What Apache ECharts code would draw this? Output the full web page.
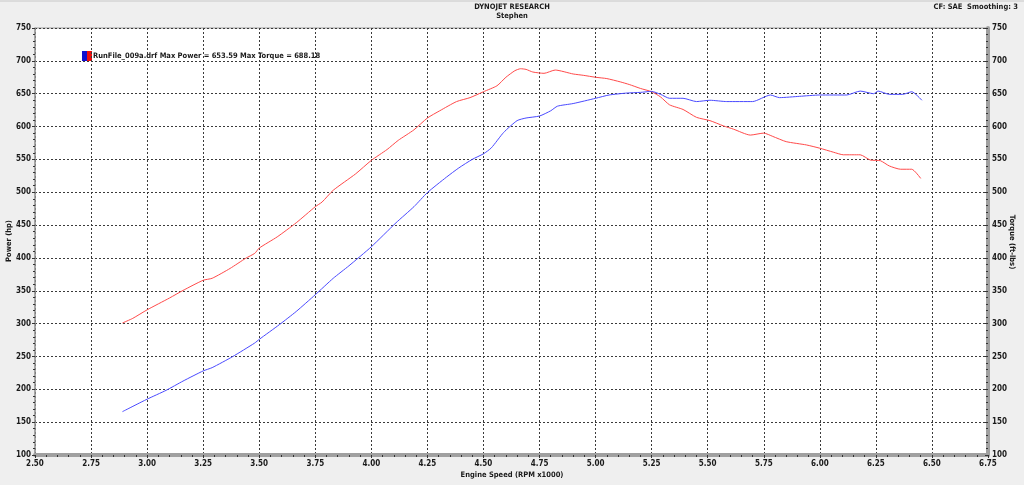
<!DOCTYPE html>
<html>
<head>
<meta charset="utf-8">
<script src="https://cdn.jsdelivr.net/npm/echarts@6/dist/echarts.min.js"></script>
<style>
html,body{margin:0;padding:0;background:#efefef;}
#c{width:1024px;height:485px;}
</style>
</head>
<body>
<div id="c"></div>
<script>
// ---- data ----
var torqueRpm = [2.89,2.936,3.00,3.10,3.16,3.25,3.29,3.37,3.44,3.48,3.50,3.58,3.665,3.75,3.78,3.83,3.93,4.00,4.07,4.12,4.19,4.25,4.305,4.38,4.44,4.50,4.56,4.60,4.64,4.665,4.69,4.72,4.77,4.82,4.90,4.945,5.00,5.05,5.11,5.15,5.20,5.25,5.29,5.33,5.39,5.45,5.51,5.57,5.615,5.69,5.75,5.79,5.85,5.94,6.00,6.06,6.105,6.18,6.225,6.27,6.31,6.36,6.41,6.45];
var torqueVal = [301,308,321,339,350.5,366,369,384,399.5,407,415,432,453.5,478,485,503,528,548.5,565,579,595,613,624,638,644,653,662,675,685,688,687,683,681,686,680,678,675,673,668,664,658,653,645,633,626,614,609,601,596,587,590,585,577,572,567,561,557,557,549,548,540,535,535,521];
var powerRpm = [2.89,3.00,3.085,3.16,3.25,3.29,3.38,3.48,3.50,3.59,3.665,3.75,3.83,3.90,4.00,4.11,4.19,4.25,4.335,4.39,4.45,4.50,4.535,4.59,4.65,4.69,4.75,4.80,4.83,4.90,5.00,5.06,5.14,5.20,5.25,5.29,5.33,5.39,5.45,5.51,5.585,5.70,5.78,5.82,5.91,6.00,6.12,6.18,6.24,6.26,6.31,6.37,6.41,6.455];
var powerVal = [166,185,198.5,212.5,228,233,249.5,270.5,276,298.5,318.5,344,369,388,417,453.5,478,499.5,523,537,550,558.5,567.5,591,609,613,616,624,631,635,643,648,651,652,653.5,649,643,643,638,640,638,638,648,644,646,648,648,654,650,654,649,649,653,640];
var titleLines = ['DYNOJET RESEARCH','Stephen'];
var infoText = 'CF: SAE  Smoothing: 3';
var legendText = 'RunFile_009a.drf Max Power = 653.59 Max Torque = 688.18';
var xTitle = 'Engine Speed (RPM x1000)';
var yLeftTitle = 'Power (hp)';
var yRightTitle = 'Torque (ft-lbs)';

function pairs(xs, ys){ return xs.map(function(x,i){ return [x, ys[i]]; }); }

var FONT = "'DejaVu Sans Condensed','Liberation Sans',sans-serif";
var chart = echarts.init(document.getElementById('c'));
var lbl = {fontSize:8, fontWeight:'bold', color:'#1a1a1a', fontFamily:FONT};
var split = {show:true, lineStyle:{color:'#3a3a3a', type:[2,2], width:1}};
var TF = 'bold 7.5px ' + FONT;

chart.setOption({
  backgroundColor:'#efefef',
  animation:false,
  grid:{left:35,right:36,top:28,bottom:30,show:true,backgroundColor:'#ffffff',borderColor:'#9a9a9a',borderWidth:1},
  xAxis:{type:'value',min:2.5,max:6.75,interval:0.25,
    axisLine:{show:true,onZero:false,lineStyle:{color:'#a0a0a0',width:4}},
    axisTick:{show:true,length:3,lineStyle:{color:'#333'}},
    minorTick:{show:true,splitNumber:5,length:2,lineStyle:{color:'#333'}},
    axisLabel:Object.assign({margin:5,formatter:function(v){return v.toFixed(2);}},lbl),
    splitLine:split},
  yAxis:[
    {type:'value',min:100,max:750,interval:50,position:'left',
      axisLine:{show:true,lineStyle:{color:'#9a9a9a',width:1.5}},
      axisTick:{show:true,length:3,lineStyle:{color:'#333'}},
      minorTick:{show:true,splitNumber:5,length:2,lineStyle:{color:'#333'}},
      axisLabel:Object.assign({margin:4},lbl),
      splitLine:split},
    {type:'value',min:100,max:750,interval:50,position:'right',
      axisLine:{show:true,lineStyle:{color:'#a0a0a0',width:4}},
      axisTick:{show:true,length:3,inside:true,lineStyle:{color:'#333'}},
      minorTick:{show:true,splitNumber:5,length:2,lineStyle:{color:'#333'}},
      axisLabel:Object.assign({margin:4},lbl),
      splitLine:{show:false}}
  ],
  series:[
    {name:'Torque',type:'line',yAxisIndex:1,showSymbol:false,smooth:0.2,
      lineStyle:{color:'#ff4a4a',width:1},data:pairs(torqueRpm,torqueVal)},
    {name:'Power',type:'line',yAxisIndex:0,showSymbol:false,smooth:0.2,
      lineStyle:{color:'#4a4aff',width:1},data:pairs(powerRpm,powerVal)}
  ],
  graphic:[
    {type:'line',shape:{x1:0,y1:1,x2:1024,y2:1},style:{stroke:'#c8c8c8',lineWidth:1}},
    {type:'text',left:'center',top:3,style:{text:titleLines[0],font:TF,fill:'#1a1a1a'}},
    {type:'text',left:'center',top:12,style:{text:titleLines[1],font:TF,fill:'#1a1a1a'}},
    {type:'text',right:6,top:3,style:{text:infoText,font:TF,fill:'#1a1a1a'}},
    {type:'text',left:'center',top:471,style:{text:xTitle,font:TF,fill:'#1a1a1a'}},
    {type:'text',x:9,y:241,rotation:Math.PI/2,style:{text:yLeftTitle,font:TF,fill:'#1a1a1a',align:'center',verticalAlign:'middle'}},
    {type:'text',x:1012,y:242,rotation:-Math.PI/2,style:{text:yRightTitle,font:TF,fill:'#1a1a1a',align:'center',verticalAlign:'middle'}},
    {type:'rect',shape:{x:82,y:51,width:5,height:10},style:{fill:'#1010d0'}},
    {type:'rect',shape:{x:87,y:51,width:5,height:10},style:{fill:'#ee1010'}},
    {type:'text',x:93,y:56,style:{text:legendText,font:TF,fill:'#1a1a1a',verticalAlign:'middle'}}
  ]
});
</script>
</body>
</html>
